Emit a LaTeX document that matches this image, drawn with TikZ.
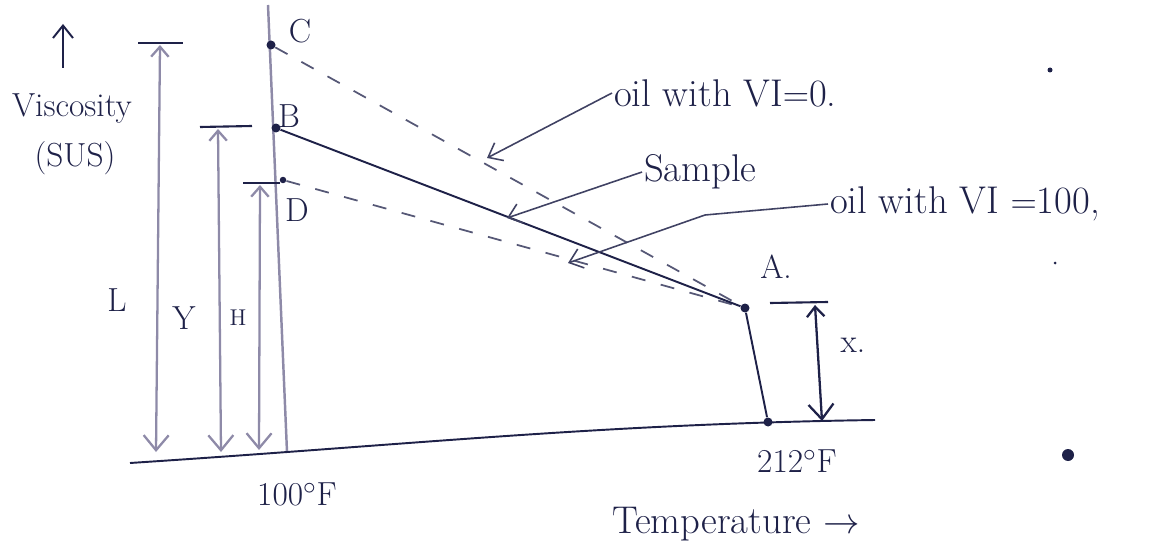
\documentclass[tikz,border=0pt]{standalone}
\usepackage{tikz}
\usetikzlibrary{arrows.meta,positioning,calc}
\definecolor{Ink}{HTML}{1E2148}
\definecolor{Pencil}{HTML}{8E8AA8}
\tikzset{
  >={Straight Barb[length=2.5mm,width=4mm]},
  hand/.style={font=\fontsize{19}{22}\selectfont,text=Ink,inner sep=1pt},
  bighand/.style={hand,font=\fontsize{22}{26}\selectfont},
  curve/.style={draw=Ink,line width=1.1pt},
  refline/.style={draw=Ink!75,line width=1pt,dash pattern=on 8pt off 9pt},
  leader/.style={->,draw=Ink!85,line width=.9pt},
  dim/.style={{Straight Barb[length=2mm,width=3.5mm]}-{Straight Barb[length=3mm,width=5mm]},draw=Pencil,line width=1.3pt},
  bar/.style={draw=Ink,line width=1.2pt},
  dot/.style={circle,fill=Ink,inner sep=0pt,minimum size=1.8mm},
  speck/.style={circle,fill=Ink,inner sep=0pt,minimum size=1mm}
}
\begin{document}
\begin{tikzpicture}[x=0.02cm,y=-0.02cm]
  \useasboundingbox (0,0) rectangle (1170,554);
  % axes
  \coordinate (top) at (268,5); \coordinate (foot) at (287,452);
  \draw[draw=Pencil,line width=1.4pt] (top) -- (foot);
  \coordinate (b0) at (130,463); \coordinate (b1) at (875,420);
  \draw[curve] (b0) .. controls (420,444) and (600,424) .. (b1);
  \coordinate (vup0) at (63,68); \coordinate (vup1) at (63,24);
  \draw[->,curve] (vup0) -- (vup1);
  \node[hand] (visc) at (72,108) {Viscosity};
  \node[hand] (sus) at (75,158) {(SUS)};
  \node[hand] (t100) at (297,494) {100$^\circ$F};
  \node[hand] (t212) at (797,461) {212$^\circ$F};
  \node[bighand] (temp) at (736,524) {Temperature $\rightarrow$};

  % points on the chart
  \node[dot] (C) at (271,45) {};
  \node[dot] (B) at (276,128) {};
  \node[dot,minimum size=1.3mm] (D) at (283,180) {};
  \node[dot] (A) at (745,308) {};
  \node[dot] (E) at (768,422) {};
  \node[hand] at (300,31) {C};
  \node[hand] at (289,116) {B};
  \node[hand] at (297,210) {D};
  \node[hand] at (776,267) {A.};

  \draw[refline] (C) -- (A);
  \draw[refline] (D) -- (A);
  \draw[curve] (B) -- (A);
  \draw[curve] (A) -- (E);

  % heights L, Y, H, x
  \coordinate (Lt) at (160,45); \coordinate (Lb) at (156,452);
  \coordinate (Yt) at (218,129); \coordinate (Yb) at (221,452);
  \coordinate (Ht) at (260,185); \coordinate (Hb) at (259,450);
  \coordinate (Xt) at (815,305); \coordinate (Xb) at (822,421);
  \draw[bar] ($(Lt)+(-22,-2)$) -- ($(Lt)+(23,-2)$);
  \draw[bar] ($(Yt)+(-18,-2)$) -- ($(Yt)+(34,-3)$);
  \draw[bar] ($(Ht)+(-17,-2)$) -- ($(Ht)+(20,-2)$);
  \draw[bar] ($(Xt)+(-45,-2)$) -- ($(Xt)+(13,-3)$);
  \draw[dim] (Lt) -- (Lb);
  \draw[dim] (Yt) -- (Yb);
  \draw[dim] (Ht) -- (Hb);
  \draw[dim,draw=Ink] (Xt) -- (Xb);
  \node[hand] at (117,300) {L};
  \node[hand] at (184,318) {Y};
  \node[hand,font=\fontsize{13}{15}\selectfont] at (238,318) {H};
  \node[hand] at (853,345) {x.};

  % labels with leaders
  \node[bighand,anchor=west] (vi0) at (612,93) {oil with VI$=$0.};
  \node[bighand,anchor=west] (samp) at (642,172) {Sample};
  \node[bighand,anchor=west] (vi100) at (828,204) {oil with VI $=$100,};
  \coordinate (p0) at (487,158);
  \coordinate (p1) at (507,218);
  \coordinate (k2) at (705,215);
  \coordinate (p2) at (568,263);
  \draw[leader] (vi0.west) -- (p0);
  \draw[leader] (samp.west) -- (p1);
  \draw[leader] (vi100.west) -- (k2) -- (p2);

  % stray ink marks
  \node[speck] (s1) at (1050,70) {};
  \node[speck,minimum size=.6mm] (s2) at (1055,263) {};
  \node[dot,minimum size=2.4mm] (s3) at (1068,455) {};
\end{tikzpicture}
\end{document}
